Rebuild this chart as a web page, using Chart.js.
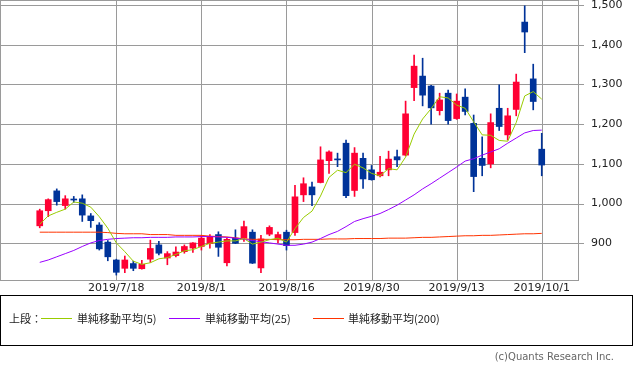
<!DOCTYPE html>
<html>
<head>
<meta charset="utf-8">
<script src="https://cdn.jsdelivr.net/npm/chart.js@4.4.1/dist/chart.umd.min.js"></script>
<style>
  body { margin: 0; background: #fff; width: 633px; height: 375px; position: relative; overflow: hidden; font-family: "DejaVu Sans", sans-serif; }
  #chartBox { position: absolute; left: 0; top: 0; width: 633px; height: 296px; }
  #legend { position: absolute; left: 0; top: 295px; width: 631px; height: 49px; border: 1px solid #000; font-family: "Noto Sans CJK JP", sans-serif; font-size: 11px; color: #222; }
  #legend span { position: absolute; top: 14px; line-height: 16px; white-space: nowrap; }
  #legend i { position: absolute; top: 22px; width: 31px; height: 1px; }
  #copy { position: absolute; right: 19px; top: 351px; font-size: 10px; color: #666; font-family: "DejaVu Sans", sans-serif; }
</style>
</head>
<body>
<div id="chartBox"><canvas id="chart" width="633" height="296"></canvas></div>
<div id="legend">
  <span style="left:8px">上段：</span>
  <i style="left:40px;background:#99cc00"></i>
  <span style="left:76px">単純移動平均(5)</span>
  <i style="left:168px;background:#9900ff"></i>
  <span style="left:204px">単純移動平均(25)</span>
  <i style="left:312px;background:#ff3300"></i>
  <span style="left:347px">単純移動平均(200)</span>
</div>
<div id="copy">(c)Quants Research Inc.</div>
<script>
// Daily candles 2019/7/4 - 2019/10/1 (index 0..59)
const opens = [944, 982, 1032, 995, 1010, 1012, 969, 946, 903, 858,
  837, 849, 836, 860, 896, 863, 869, 879, 888, 892,
  899, 922, 851, 913, 913, 928, 838, 923, 911, 928,
  927, 1022, 1042, 1053, 1108, 1112, 1152, 1033, 1114, 1085,
  1070, 1085, 1118, 1122, 1292, 1321, 1296, 1234, 1278, 1214,
  1268, 1202, 1114, 1100, 1240, 1173, 1237, 1457, 1314, 1137];
const highs = [986, 1012, 1037, 1020, 1018, 1022, 975, 952, 907, 860,
  868, 855, 857, 908, 905, 879, 891, 896, 902, 920,
  922, 929, 914, 934, 956, 934, 920, 944, 928, 933,
  1046, 1065, 1054, 1143, 1133, 1127, 1160, 1141, 1127, 1096,
  1119, 1132, 1135, 1258, 1374, 1366, 1298, 1278, 1286, 1276,
  1289, 1223, 1168, 1226, 1299, 1240, 1326, 1498, 1351, 1177];
const lows = [939, 967, 996, 986, 1003, 955, 940, 883, 856, 820,
  826, 831, 835, 852, 871, 846, 866, 875, 877, 883,
  888, 867, 843, 899, 905, 849, 826, 919, 901, 883,
  920, 1005, 995, 1052, 1076, 1093, 1015, 1018, 1038, 1059,
  1067, 1070, 1093, 1120, 1259, 1246, 1200, 1223, 1200, 1212,
  1223, 1030, 1070, 1090, 1184, 1160, 1221, 1380, 1236, 1070];
const closes = [982, 1010, 1005, 1012, 1009, 971, 957, 886, 866, 827,
  858, 837, 847, 887, 875, 874, 878, 892, 901, 913,
  917, 890, 910, 900, 942, 850, 911, 940, 922, 894,
  1017, 1050, 1022, 1110, 1130, 1110, 1020, 1127, 1062, 1060,
  1079, 1112, 1110, 1226, 1346, 1273, 1241, 1261, 1209, 1258,
  1232, 1068, 1096, 1204, 1194, 1221, 1306, 1432, 1257, 1097];

// moving averages
const ma5 = [948, 969, 978, 986, 1004, 1001, 991, 967, 938, 901,
  879, 855, 847, 851, 861, 864, 872, 881, 884, 892,
  900, 903, 906, 906, 912, 898, 903, 909, 913, 903,
  937, 965, 981, 1019, 1066, 1084, 1078, 1099, 1090, 1076,
  1070, 1088, 1085, 1117, 1175, 1213, 1239, 1269, 1266, 1248,
  1240, 1206, 1173, 1172, 1159, 1157, 1204, 1271, 1282, 1263];
const ma25 = [852, 858, 866, 874, 882, 892, 901, 907, 910, 912,
  913, 914, 914, 915, 915, 915, 916, 916, 916, 917,
  917, 916, 915, 913, 910, 907, 904, 901, 898, 895,
  895, 898, 903, 912, 922, 930, 942, 955, 962, 968,
  975, 985, 996, 1009, 1022, 1037, 1050, 1064, 1078, 1092,
  1107, 1113, 1122, 1130, 1138, 1152, 1165, 1178, 1184, 1185];
const ma200 = [928, 928, 928, 928, 928, 928, 928, 928, 927, 925,
  924, 924, 924, 922, 922, 922, 920, 920, 920, 920,
  918, 917, 916, 914, 911, 910, 910, 910, 909, 909,
  909, 910, 910, 910, 911, 911, 911, 912, 912, 912,
  912, 913, 913, 913, 914, 915, 915, 916, 917, 918,
  919, 919, 920, 920, 921, 922, 923, 924, 924, 925];

const dateTickIdx = [9, 19, 29, 39, 49, 59];
const dateTickLabels = ["2019/7/18", "2019/8/1", "2019/8/16", "2019/8/30", "2019/9/13", "2019/10/1"];
const priceTicks = [900, 1000, 1100, 1200, 1300, 1400, 1500];

const UP = "#ff0033";
const DOWN = "#003399";
const GRID = "#9a9a9a";

const candleColors = opens.map((o, i) => (closes[i] > o ? UP : DOWN));
const wickData = opens.map((o, i) => ({ x: i, y: [lows[i], highs[i]] }));
const bodyData = opens.map((o, i) => ({ x: i, y: [Math.min(o, closes[i]), Math.max(o, closes[i])] }));
const toLine = (arr) => arr.map((v, i) => ({ x: i, y: v }));

function lineSet(label, data, color) {
  return {
    type: "line",
    label: label,
    data: toLine(data),
    borderColor: color,
    borderWidth: 1,
    pointRadius: 0,
    tension: 0,
    fill: false,
    order: 0,
  };
}

// grid + frame of the plot area, drawn from the chart's own scales
const frame = {
  id: "frame",
  beforeDatasetsDraw(chart) {
    const a = chart.chartArea;
    const ctx = chart.ctx;
    const xs = chart.scales.x;
    const ys = chart.scales.y;
    ctx.save();
    ctx.strokeStyle = GRID;
    ctx.lineWidth = 1;
    ctx.beginPath();
    priceTicks.forEach((v) => {
      const y = Math.round(ys.getPixelForValue(v)) + 0.5;
      ctx.moveTo(a.left, y);
      ctx.lineTo(a.right + 5, y);
    });
    dateTickIdx.forEach((v) => {
      const x = Math.round(xs.getPixelForValue(v)) + 0.5;
      ctx.moveTo(x, a.top);
      ctx.lineTo(x, a.bottom);
    });
    ctx.stroke();
    ctx.strokeRect(a.left + 0.5, a.top + 0.5, a.right - a.left - 1, a.bottom - a.top);
    ctx.restore();
  },
};

Chart.defaults.font.family = "DejaVu Sans";
Chart.defaults.font.size = 11;

new Chart(document.getElementById("chart"), {
  type: "bar",
  data: {
    datasets: [
      lineSet("単純移動平均(5)", ma5, "#99cc00"),
      lineSet("単純移動平均(25)", ma25, "#9900ff"),
      lineSet("単純移動平均(200)", ma200, "#ff3300"),
      {
        label: "body",
        data: bodyData,
        backgroundColor: candleColors,
        barThickness: 6,
        minBarLength: 1,
        grouped: false,
        borderWidth: 0,
        order: 1,
      },
      {
        label: "wick",
        data: wickData,
        backgroundColor: candleColors,
        barThickness: 1,
        grouped: false,
        borderWidth: 0,
        order: 2,
      },
    ],
  },
  options: {
    responsive: false,
    animation: false,
    layout: { padding: 0 },
    plugins: { legend: { display: false }, tooltip: { enabled: false } },
    scales: {
      x: {
        type: "linear",
        offset: false,
        min: -4.67,
        max: 63.38,
        grid: { display: false, drawTicks: false, offset: false },
        border: { display: false },
        afterBuildTicks: (scale) => {
          scale.ticks = dateTickIdx.map((v) => ({ value: v }));
        },
        afterFit: (scale) => {
          scale.height = 16;
          scale.paddingLeft = 0;
          scale.paddingRight = 0;
        },
        ticks: {
          color: "#222",
          padding: 2,
          maxRotation: 0,
          autoSkip: false,
          callback: (v) => dateTickLabels[dateTickIdx.indexOf(v)],
        },
      },
      y: {
        position: "right",
        min: 807.6,
        max: 1512.6,
        grid: { display: false, drawTicks: false },
        border: { display: false },
        afterBuildTicks: (scale) => {
          scale.ticks = priceTicks.map((v) => ({ value: v }));
        },
        afterFit: (scale) => {
          scale.width = 54;
          scale.paddingTop = 0;
          scale.paddingBottom = 0;
        },
        ticks: {
          color: "#222",
          padding: 12,
          callback: (v) => v.toLocaleString("en-US"),
        },
      },
    },
  },
  plugins: [frame],
});
</script>
</body>
</html>
